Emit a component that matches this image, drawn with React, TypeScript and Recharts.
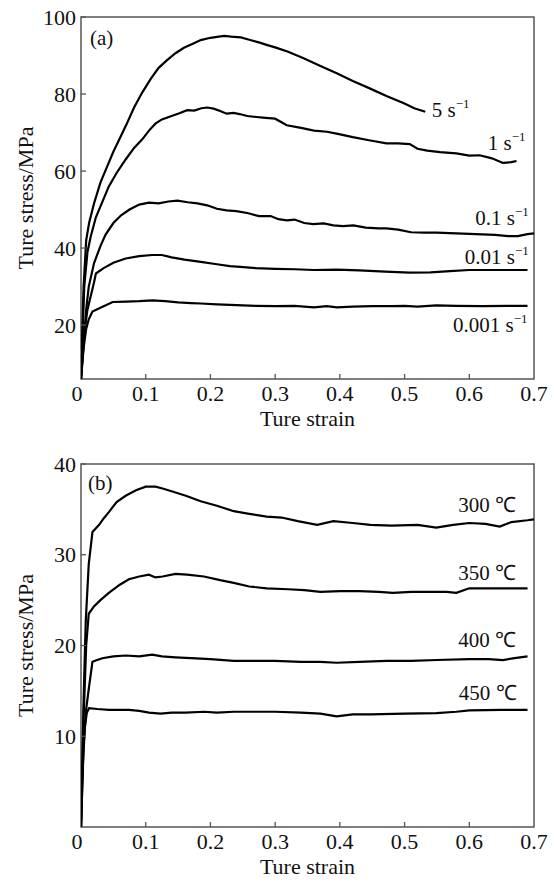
import React from 'react';
import { LineChart, Line, XAxis, YAxis, ReferenceArea, ReferenceDot } from 'recharts';

const FONT = '"Liberation Serif", "Times New Roman", Times, serif';

// ---------- shared axis ticks ----------
const xTicks = [0, 0.1, 0.2, 0.3, 0.4, 0.5, 0.6, 0.7];
const yTicksA = [20, 40, 60, 80, 100];
const yTicksB = [10, 20, 30, 40];

// ---------- (a) strain-rate curves [strain, stress] ----------
const rate5: [number, number][] = [[0,6],[0.004,30],[0.008,42],[0.0125,46.5],[0.02,51.5],[0.03,57],[0.04,61],[0.05,65],[0.06,68.5],[0.07,72],[0.082,76.5],[0.095,80.5],[0.108,84],[0.12,86.8],[0.133,88.8],[0.146,90.6],[0.159,92],[0.172,93],[0.185,94],[0.2,94.6],[0.213,94.9],[0.221,95.1],[0.232,94.9],[0.247,94.7],[0.26,94.1],[0.275,93.4],[0.288,92.7],[0.3,92.1],[0.32,91],[0.344,89.3],[0.37,87.3],[0.396,85.3],[0.42,83.4],[0.447,81.4],[0.472,79.5],[0.499,77.6],[0.515,76.3],[0.532,75.4]];
const rate1: [number, number][] = [[0,6],[0.005,30],[0.01,39],[0.015,43],[0.023,48],[0.033,52],[0.043,56],[0.055,59.5],[0.069,63],[0.082,66],[0.095,68.3],[0.105,70.5],[0.115,72.3],[0.125,73.4],[0.14,74.3],[0.152,75],[0.164,75.8],[0.175,75.7],[0.186,76.3],[0.195,76.5],[0.205,76.2],[0.215,75.6],[0.225,74.9],[0.236,75.1],[0.245,74.8],[0.257,74.3],[0.267,74.1],[0.285,73.8],[0.3,73.6],[0.318,71.9],[0.34,71.2],[0.36,70.5],[0.38,70.2],[0.395,69.7],[0.42,68.8],[0.445,68],[0.472,67.2],[0.49,67.2],[0.508,67],[0.52,65.8],[0.535,65.3],[0.555,64.9],[0.58,64.6],[0.6,64],[0.616,64.1],[0.635,63.3],[0.652,62.1],[0.665,62.3],[0.673,62.6]];
const rate01: [number, number][] = [[0,6],[0.004,15],[0.008,24],[0.012,30],[0.02,36],[0.03,40.5],[0.038,43.5],[0.05,46.5],[0.062,48.5],[0.075,50],[0.09,51.3],[0.105,51.8],[0.12,51.6],[0.135,52.1],[0.149,52.3],[0.165,51.9],[0.18,51.6],[0.195,51.1],[0.21,50.2],[0.225,49.8],[0.24,49.6],[0.257,49.1],[0.275,48.3],[0.293,48.3],[0.305,47.5],[0.318,47.2],[0.33,47.4],[0.345,46.5],[0.359,46.2],[0.375,46.4],[0.39,45.9],[0.405,45.7],[0.421,45.9],[0.44,45.3],[0.46,45.1],[0.472,45.1],[0.49,44.8],[0.51,44.1],[0.53,44],[0.549,44],[0.58,43.8],[0.61,43.6],[0.64,43.4],[0.66,43.1],[0.675,43.1],[0.69,43.6],[0.7,43.8]];
const rate001: [number, number][] = [[0,6],[0.005,18],[0.01,24],[0.015,27.5],[0.02,31],[0.023,33.4],[0.035,34.8],[0.05,36.2],[0.069,37.3],[0.09,37.9],[0.11,38.2],[0.125,38.2],[0.14,37.6],[0.16,37],[0.185,36.4],[0.21,35.8],[0.23,35.3],[0.246,35.1],[0.27,34.8],[0.3,34.6],[0.33,34.5],[0.36,34.3],[0.395,34.4],[0.43,34.2],[0.47,33.9],[0.508,33.6],[0.54,33.7],[0.57,34],[0.6,34.3],[0.65,34.3],[0.69,34.3]];
const rate0001: [number, number][] = [[0,6],[0.004,14],[0.008,19],[0.012,21.5],[0.0177,23.5],[0.03,24.5],[0.049,26],[0.07,26.1],[0.09,26.2],[0.11,26.4],[0.13,26.2],[0.15,25.9],[0.17,25.7],[0.185,25.6],[0.21,25.4],[0.24,25.2],[0.27,25],[0.3,24.9],[0.33,25],[0.36,24.6],[0.38,24.9],[0.395,24.6],[0.42,24.8],[0.45,24.9],[0.48,24.9],[0.5,25],[0.52,24.8],[0.549,25.1],[0.58,25],[0.62,24.9],[0.66,25],[0.69,25]];

// ---------- (b) temperature curves [strain, stress] ----------
const temp300: [number, number][] = [[0,0],[0.004,14],[0.0074,22.8],[0.012,29],[0.0177,32.5],[0.028,33.3],[0.035,34],[0.043,34.7],[0.055,35.8],[0.069,36.5],[0.085,37.1],[0.1,37.5],[0.115,37.5],[0.126,37.3],[0.14,37],[0.162,36.5],[0.185,35.9],[0.21,35.4],[0.236,34.8],[0.26,34.5],[0.287,34.2],[0.31,34.1],[0.335,33.7],[0.365,33.3],[0.39,33.7],[0.42,33.5],[0.447,33.3],[0.48,33.2],[0.52,33.3],[0.549,33],[0.575,33.3],[0.6,33.5],[0.625,33.4],[0.647,33.1],[0.665,33.6],[0.69,33.8],[0.7,33.9]];
const temp350: [number, number][] = [[0,0],[0.004,12],[0.008,20],[0.012,23.5],[0.02,24.3],[0.03,25],[0.043,25.8],[0.06,26.7],[0.074,27.3],[0.09,27.6],[0.105,27.8],[0.115,27.5],[0.126,27.6],[0.146,27.9],[0.164,27.8],[0.19,27.6],[0.215,27.2],[0.236,26.9],[0.26,26.5],[0.287,26.3],[0.32,26.2],[0.345,26.1],[0.37,25.9],[0.4,26],[0.43,26],[0.46,25.9],[0.482,25.8],[0.51,25.9],[0.54,25.9],[0.565,25.9],[0.58,25.8],[0.6,26.3],[0.64,26.3],[0.69,26.3]];
const temp400: [number, number][] = [[0,0],[0.004,9],[0.008,13],[0.0125,15.5],[0.0177,18.2],[0.025,18.4],[0.033,18.6],[0.05,18.8],[0.069,18.9],[0.09,18.8],[0.11,19],[0.125,18.8],[0.146,18.7],[0.17,18.6],[0.2,18.5],[0.236,18.3],[0.27,18.3],[0.3,18.3],[0.34,18.2],[0.37,18.2],[0.395,18.1],[0.43,18.2],[0.472,18.3],[0.51,18.3],[0.55,18.4],[0.6,18.5],[0.63,18.5],[0.652,18.4],[0.67,18.6],[0.69,18.8]];
const temp450: [number, number][] = [[0,0],[0.003,7],[0.006,11],[0.009,12.6],[0.0125,13.1],[0.025,13],[0.043,12.9],[0.06,12.9],[0.074,12.9],[0.09,12.8],[0.105,12.6],[0.123,12.5],[0.14,12.6],[0.162,12.6],[0.19,12.7],[0.21,12.6],[0.236,12.7],[0.27,12.7],[0.3,12.7],[0.34,12.6],[0.37,12.5],[0.395,12.2],[0.42,12.4],[0.447,12.4],[0.5,12.5],[0.549,12.55],[0.58,12.7],[0.6,12.85],[0.65,12.9],[0.69,12.9]];

// ---------- annotation texts ----------
const rateNames = ['5 s', '1 s', '0.1 s', '0.01 s', '0.001 s'];
const rateAnchors: [number, number, 'start' | 'end'][] = [[0.542, 75.8, 'start'], [0.687, 67.3, 'end'], [0.692, 47.8, 'end'], [0.692, 37.7, 'end'], [0.69, 20.0, 'end']];
const tempNames = ['300 ℃', '350 ℃', '400 ℃', '450 ℃'];
const tempAnchors: [number, number][] = [[0.672, 35.5], [0.672, 28.0], [0.672, 20.6], [0.673, 14.8]];

const toPts = (arr: [number, number][]) => arr.map(([x, y]) => ({ x, y }));

const AXIS = '#555';
const TICK_FS = 22;
const NOTE_FS = 21;

const XTick = (props: any) => {
  const { x, y, payload } = props;
  const v = payload.value;
  return (
    <g>
      {v !== 0 && v !== 0.7 ? <line x1={x} y1={y} x2={x} y2={y - 5} stroke={AXIS} strokeWidth={1.3} /> : null}
      <text x={v === 0 ? x - 4 : x} y={y + 22} textAnchor="middle" fontFamily={FONT} fontSize={TICK_FS} fill="#111">
        {String(v)}
      </text>
    </g>
  );
};

const YTick = (props: any) => {
  const { x, y, payload } = props;
  return (
    <g>
      <line x1={x} y1={y} x2={x + 5} y2={y} stroke={AXIS} strokeWidth={1.3} />
      <text x={x - 5} y={y + 7.5} textAnchor="end" fontFamily={FONT} fontSize={TICK_FS} fill="#111">
        {String(payload.value)}
      </text>
    </g>
  );
};

const XTitle = (props: any) => {
  const vb = props.viewBox || {};
  return (
    <text x={vb.x + vb.width / 2} y={vb.y + 47} textAnchor="middle" fontFamily={FONT} fontSize={TICK_FS} fill="#111">
      Ture strain
    </text>
  );
};

const YTitle = (props: any) => {
  const vb = props.viewBox || {};
  const cx = vb.x + 25;
  const cy = vb.y + vb.height / 2;
  return (
    <text x={cx} y={cy} transform={`rotate(-90 ${cx} ${cy})`} textAnchor="middle" dominantBaseline="central" fontFamily={FONT} fontSize={TICK_FS} fill="#111">
      Ture stress/MPa
    </text>
  );
};

const rateShape = (name: string, anchor: 'start' | 'end') => (p: any) => (
  <text x={p.cx} y={p.cy + 7} textAnchor={anchor} fontFamily={FONT} fontSize={NOTE_FS} fill="#111">
    {name}
    <tspan dy={-9} fontSize={13}>−1</tspan>
  </text>
);

const plainShape = (name: string, anchor: 'start' | 'end') => (p: any) => (
  <text x={p.cx} y={p.cy + 7} textAnchor={anchor} fontFamily={FONT} fontSize={NOTE_FS} fill="#111">
    {name}
  </text>
);

const lineProps = {
  dataKey: 'y',
  type: 'linear' as const,
  stroke: '#000',
  strokeWidth: 2.2,
  dot: false,
  activeDot: false,
  isAnimationActive: false,
};

export default function App() {
  const curvesA = [rate5, rate1, rate01, rate001, rate0001];
  const curvesB = [temp300, temp350, temp400, temp450];
  return (
    <div style={{ position: 'absolute', left: 0, top: 0, width: 554, height: 882, background: '#fff' }}>
      <LineChart width={554} height={436} margin={{ top: 17, right: 20, bottom: 0, left: 0 }}>
        <XAxis dataKey="x" type="number" domain={[0, 0.7]} ticks={xTicks} interval={0} allowDataOverflow axisLine={false} tickLine={false} tickSize={0} tickMargin={0} height={57} tick={<XTick />} label={<XTitle />} />
        <YAxis type="number" domain={[6, 100]} ticks={yTicksA} interval={0} allowDataOverflow axisLine={false} tickLine={false} tickSize={0} tickMargin={0} width={81} tick={<YTick />} label={<YTitle />} />
        <ReferenceArea x1={0} x2={0.7} y1={6} y2={100} fill="none" stroke={AXIS} strokeWidth={1.5} fillOpacity={0} ifOverflow="visible" />
        {curvesA.map((c, i) => (
          <Line key={`a${i}`} {...lineProps} data={toPts(c)} />
        ))}
        {rateNames.map((n, i) => (
          <ReferenceDot key={`ra${i}`} x={rateAnchors[i][0]} y={rateAnchors[i][1]} r={0} ifOverflow="visible" shape={rateShape(n, rateAnchors[i][2])} />
        ))}
        <ReferenceDot x={0.014} y={94.5} r={0} ifOverflow="visible" shape={plainShape('(a)', 'start')} />
      </LineChart>
      <LineChart width={554} height={446} margin={{ top: 28, right: 20, bottom: 0, left: 0 }}>
        <XAxis dataKey="x" type="number" domain={[0, 0.7]} ticks={xTicks} interval={0} allowDataOverflow axisLine={false} tickLine={false} tickSize={0} tickMargin={0} height={55} tick={<XTick />} label={<XTitle />} />
        <YAxis type="number" domain={[0, 40]} ticks={yTicksB} interval={0} allowDataOverflow axisLine={false} tickLine={false} tickSize={0} tickMargin={0} width={81} tick={<YTick />} label={<YTitle />} />
        <ReferenceArea x1={0} x2={0.7} y1={0} y2={40} fill="none" stroke={AXIS} strokeWidth={1.5} fillOpacity={0} ifOverflow="visible" />
        {curvesB.map((c, i) => (
          <Line key={`b${i}`} {...lineProps} data={toPts(c)} />
        ))}
        {tempNames.map((n, i) => (
          <ReferenceDot key={`rb${i}`} x={tempAnchors[i][0]} y={tempAnchors[i][1]} r={0} ifOverflow="visible" shape={plainShape(n, 'end')} />
        ))}
        <ReferenceDot x={0.011} y={37.9} r={0} ifOverflow="visible" shape={plainShape('(b)', 'start')} />
      </LineChart>
    </div>
  );
}
